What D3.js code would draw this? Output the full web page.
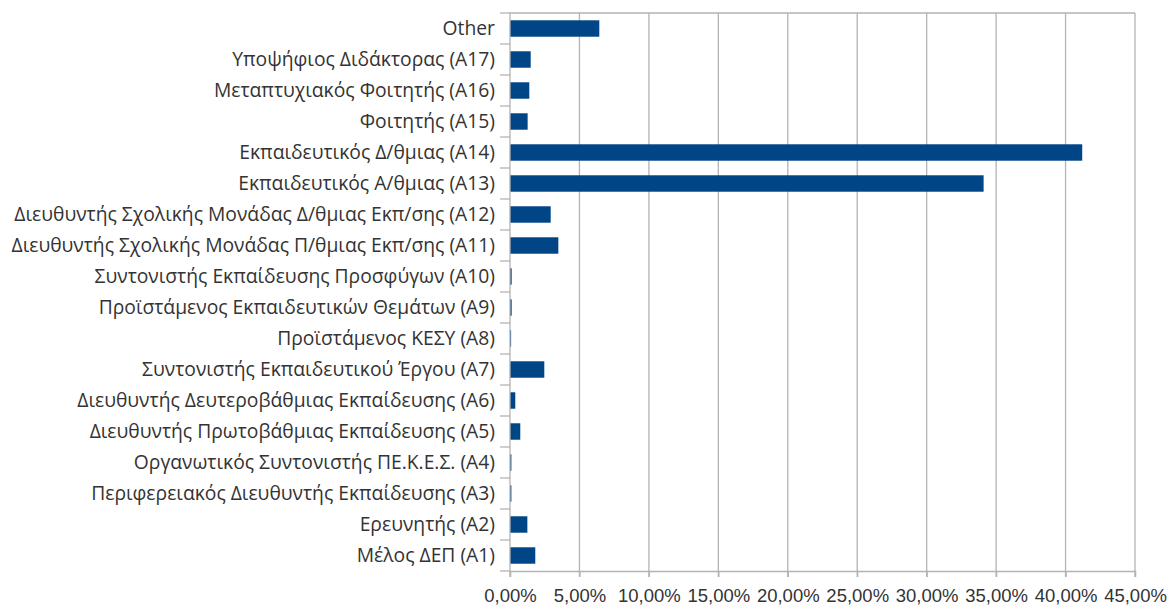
<!DOCTYPE html>
<html><head><meta charset="utf-8">
<script src="https://cdn.jsdelivr.net/npm/d3@7"></script>
<style>body{margin:0;background:#fff}svg{display:block}</style>
</head><body><svg id="c" width="1169" height="606"></svg>
<script>
const categories = ["Other","Υποψήφιος Διδάκτορας (Α17)","Μεταπτυχιακός Φοιτητής (Α16)","Φοιτητής (Α15)","Εκπαιδευτικός Δ/θμιας (Α14)","Εκπαιδευτικός Α/θμιας (Α13)","Διευθυντής Σχολικής Μονάδας Δ/θμιας Εκπ/σης (Α12)","Διευθυντής Σχολικής Μονάδας Π/θμιας Εκπ/σης (Α11)","Συντονιστής Εκπαίδευσης Προσφύγων (Α10)","Προϊστάμενος Εκπαιδευτικών Θεμάτων (Α9)","Προϊστάμενος ΚΕΣΥ (Α8)","Συντονιστής Εκπαιδευτικού Έργου (Α7)","Διευθυντής Δευτεροβάθμιας Εκπαίδευσης (Α6)","Διευθυντής Πρωτοβάθμιας Εκπαίδευσης (Α5)","Οργανωτικός Συντονιστής ΠΕ.Κ.Ε.Σ. (Α4)","Περιφερειακός Διευθυντής Εκπαίδευσης (Α3)","Ερευνητής (Α2)","Μέλος ΔΕΠ (Α1)"];
const values = [6.43,1.49,1.39,1.27,41.2,34.1,2.93,3.48,0.12,0.12,0.08,2.47,0.38,0.74,0.1,0.1,1.25,1.82];
const ticks = [0,5,10,15,20,25,30,35,40,45];

const svg = d3.select("#c");
const L=510,R=1135,T=13,B=571;
const x = d3.scaleLinear().domain([0,45]).range([L,R]);
const y = d3.scaleBand().domain(categories).range([T,B]).paddingInner(0.47).paddingOuter(0.235);
const yb = d3.scaleBand().domain(categories).range([T,B]);
const grid="#b3b3b3";

svg.append("g").selectAll("line").data(ticks.slice(1)).join("line")
  .attr("x1",d=>x(d)).attr("x2",d=>x(d)).attr("y1",T).attr("y2",B+6)
  .attr("stroke",grid).attr("stroke-width",1.3);
svg.append("line").attr("x1",L).attr("x2",R).attr("y1",T).attr("y2",T).attr("stroke",grid).attr("stroke-width",1.3);

svg.append("g").selectAll("rect").data(categories).join("rect")
  .attr("x",L).attr("y",d=>y(d)).attr("height",y.bandwidth())
  .attr("width",(d,i)=>x(values[i])-L).attr("fill","#004586");

const ya = d3.axisLeft(yb).tickSize(0).tickPadding(15);
const gy = svg.append("g").attr("transform",`translate(${L},0)`).call(ya);
gy.select(".domain").remove();
gy.selectAll("text").attr("font-size",19.3).attr("fill","#333").attr("font-family","'Open Sans', sans-serif").attr("dy","0.34em");
svg.append("g").selectAll("line").data(d3.range(categories.length+1)).join("line")
  .attr("x1",L-10).attr("x2",L).attr("y1",i=>T+i*yb.step()).attr("y2",i=>T+i*yb.step())
  .attr("stroke",grid).attr("stroke-width",1.3);
svg.append("line").attr("x1",L).attr("x2",L).attr("y1",T).attr("y2",B+6).attr("stroke",grid).attr("stroke-width",1.3);

const xa = d3.axisBottom(x).tickValues(ticks).tickSize(6).tickPadding(12)
  .tickFormat(d=>d3.format(".2f")(d).replace(".",",")+"%");
const gx = svg.append("g").attr("transform",`translate(0,${B})`).call(xa);
gx.select(".domain").attr("stroke",grid).attr("stroke-width",1.3);
gx.selectAll(".tick line").attr("stroke",grid).attr("stroke-width",1.3);
gx.selectAll("text").attr("font-size",18.5).attr("fill","#333").attr("font-family","'Liberation Sans', Arial, sans-serif");
</script></body></html>
